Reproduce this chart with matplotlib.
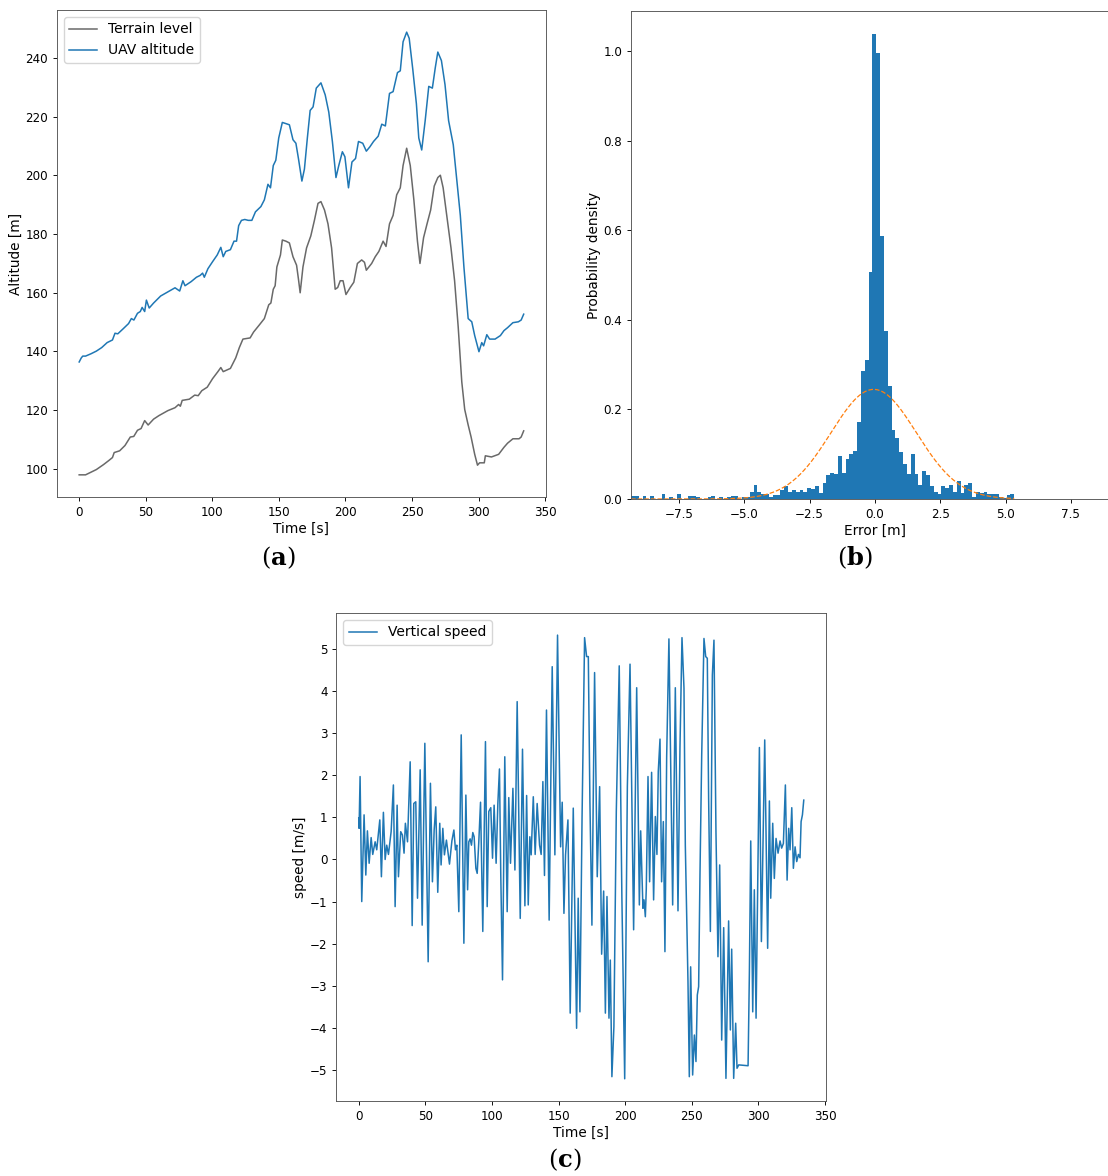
import numpy as np
import matplotlib
matplotlib.use("Agg")
import matplotlib.pyplot as plt
from matplotlib.ticker import MultipleLocator

plt.rcParams['mathtext.fontset'] = 'dejavuserif'

TICK_SIZE = 8.6
LABEL_SIZE = 9.8
LEGEND_SIZE = 10
LW = 1.1

# (a) terrain level and UAV altitude
terrain_t = [0, 4.8, 7.5, 12.9, 18.3, 22.3, 25, 26.3, 30.4, 34.4, 38.4, 41, 43.8, 46.5, 49.2,
             51.8, 55.9, 59.9, 66.6, 72, 74.7, 76, 77.4, 82.7, 86.8, 89.4, 92.1, 96.2, 100.2,
             104.2, 106.4, 108.2, 113.6, 117.6, 120.3, 123, 128.4, 131, 135.1, 139.1, 142.4,
             144, 145.8, 147.2, 148.5, 151.2, 152.6, 155.3, 157.9, 160.6, 163.3, 164.7, 166,
             168.1, 170.8, 174, 176.7, 179.4, 181.6, 184.3, 186.9, 189.6, 192.3, 194.2, 196.1,
             198.2, 200.4, 203.6, 206.3, 209, 212.2, 214.3, 215.7, 219.7, 222.4, 225.1, 228.3,
             230.5, 233.1, 235.8, 238.5, 241.2, 243.3, 246, 248.7, 251.4, 254.1, 256, 258.7,
             261.3, 264, 266.7, 269.4, 271.3, 273.4, 276.1, 279.3, 282, 284.7, 287.4, 289.6,
             292.2, 294.4, 297.1, 299.2, 300.8, 304.3, 305.1, 309.7, 315.1, 319.1, 321.8,
             325.8, 330.4, 332, 333.9]
terrain_alt = [97.9, 97.9, 98.5, 99.7, 101.4, 102.8, 103.8, 105.5, 106.1, 107.9, 110.8, 111,
               113.1, 113.7, 116.4, 114.9, 116.9, 118.1, 119.8, 120.8, 121.9, 121.3, 123.3,
               123.7, 125.1, 124.9, 126.6, 127.8, 130.7, 133.1, 134.5, 133.1, 134.2, 137.8,
               141.3, 144.2, 144.6, 146.6, 148.9, 151.2, 155.9, 156.5, 161.2, 162.4, 168.8,
               172.9, 178, 177.6, 177, 172.3, 169.4, 164.7, 160, 168.8, 175.3, 179.4, 184.7,
               190.5, 191.1, 188.2, 183.5, 175.3, 161.2, 161.8, 164.1, 164.1, 159.4, 161.8,
               163.6, 170, 171.2, 170.4, 167.7, 170, 172.3, 174.1, 177.6, 175.8, 183.5, 186.4,
               193.4, 195.8, 203.4, 209.3, 203.4, 191.7, 177.6, 170, 178.8, 183.5, 188.2,
               196.4, 199.3, 200.1, 195.8, 186.4, 175.3, 164.1, 148.4, 129.6, 120.2, 114.9,
               110.8, 104.9, 101.2, 102, 102, 104.4, 104, 104.9, 107.3, 108.7, 110.2, 110.2,
               110.8, 112.9]

uav_t = [0, 1.6, 2.7, 4.8, 8.9, 12.9, 16.9, 21, 25, 26.9, 29, 33, 37.1, 39.2, 41.1, 43.8, 45.9,
         47.3, 49.2, 50.5, 52.6, 55.9, 61.2, 66.6, 72, 75.5, 77.9, 79.5, 84.1, 88.1, 90.8, 92.7,
         94, 96.7, 100.2, 103.7, 106.4, 108.2, 110.1, 113.6, 116.3, 118.2, 119.8, 121.9, 124.4,
         127, 129.7, 132.4, 136.5, 139.1, 141.8, 143.7, 145.8, 147.7, 149.9, 152.6, 155.3,
         157.9, 160.6, 162.8, 164.7, 167.3, 169.2, 171.4, 173.5, 175.7, 178.1, 181.6, 184.8,
         187.5, 190.2, 192.9, 195, 197.7, 199.6, 202.3, 204.9, 207.6, 209.8, 213, 215.7, 218.4,
         221.1, 224.6, 227.3, 230, 233.1, 235.8, 239.1, 241.2, 243.3, 246, 247.9, 250.6, 253.3,
         255.1, 257.3, 259.9, 262.6, 265.3, 267.5, 269.4, 272.1, 274.8, 277.5, 281, 283.6,
         286.3, 289, 292.2, 294.9, 297.1, 300.3, 302.4, 303.8, 306.2, 308.3, 312.4, 316.4,
         319.1, 321.8, 325.8, 329.9, 332, 333.9]
uav_alt = [136.4, 137.8, 138.4, 138.4, 139.2, 140.1, 141.3, 143, 143.9, 146.2, 146, 147.7,
           149.5, 151.2, 150.7, 153, 153.6, 155, 153.6, 157.5, 154.8, 156.5, 158.9, 160.3,
           161.7, 160.6, 164.1, 162.4, 163.8, 165.3, 165.9, 166.7, 165.3, 168.2, 170.6, 172.9,
           175.5, 172.3, 174.1, 174.7, 177.6, 177.6, 182.9, 184.7, 185, 184.7, 184.7, 187.6,
           189.4, 191.7, 197, 195.8, 203.4, 205.2, 212.8, 218.1, 217.7, 217.3, 212.2, 211,
           205.8, 198.1, 202.2, 212.8, 222.2, 223.4, 229.8, 231.6, 227.5, 221.6, 211.6, 199.3,
           203.4, 208.1, 206.4, 195.8, 204.6, 205.8, 211.6, 211, 208.3, 209.8, 211.6, 213.4,
           217.5, 216.9, 228, 228.6, 235.1, 235.7, 245.6, 248.9, 246.8, 236.2, 224.5, 212.8,
           208.7, 218.7, 230.4, 229.8, 236.8, 242.1, 239.2, 231, 218.7, 210.5, 198.7, 186.4,
           168.8, 151.2, 150.1, 145.4, 139.9, 143, 141.9, 145.7, 144.2, 144.2, 145.4, 147.1,
           148.1, 149.8, 150.1, 150.7, 152.7]

# (b) error histogram (density per bin) and fitted normal
bin_lo, bin_hi, n_bins = -9.34, 5.33, 100
hist_density = [0.0075, 0.0075, 0, 0.0075, 0, 0.0075, 0, 0, 0.011, 0,
                0.004, 0, 0.011, 0, 0, 0.0075, 0.0075, 0.004, 0, 0,
                0.004, 0.0075, 0, 0.004, 0, 0.004, 0.0075, 0.0075, 0, 0.004,
                0.004, 0.015, 0.032, 0.015, 0.012, 0.012, 0.004, 0.008, 0.008, 0.021,
                0.028, 0.015, 0.021, 0.015, 0.019, 0.015, 0.025, 0.023, 0.028, 0.013,
                0.036, 0.054, 0.057, 0.055, 0.095, 0.058, 0.09, 0.1, 0.108, 0.173,
                0.286, 0.31, 0.508, 1.038, 0.996, 0.587, 0.375, 0.252, 0.155, 0.136,
                0.104, 0.078, 0.056, 0.1, 0.056, 0.032, 0.062, 0.054, 0.028, 0.015,
                0.012, 0.028, 0.025, 0.032, 0.015, 0.04, 0.013, 0.032, 0.036, 0.004,
                0.015, 0.013, 0.015, 0.012, 0.012, 0.012, 0.004, 0.002, 0.008, 0.012]
err_mu, err_sigma = -0.05, 1.63

# (c) vertical speed
speed_t = [0, 0.25, 1, 2.25, 4, 5.3, 6.5, 7.8, 9.3, 10.5, 12.3, 13.5, 14.5, 15.8, 17, 18.5,
           19.8, 21, 22.3, 24.3, 26, 27.3, 28.8, 29.8, 31.5, 32.8, 34, 35, 36.6, 38.6, 40.1,
           41.3, 42.8, 44.1, 46.1, 47.6, 49.6, 52.1, 53.8, 55.3, 56.6, 57.8, 59.3, 60.8, 61.8,
           63.1, 64.3, 65.8, 68.1, 69.9, 71.4, 72.6, 73.6, 75.1, 76.9, 78.9, 80.4, 81.7, 82.6,
           83.6, 84.6, 85.6, 86.6, 87.9, 88.9, 90.1, 91.4, 93.1, 95.1, 96.4, 97.6, 99.1, 100.4,
           101.6, 103.1, 104.4, 105.6, 106.6, 107.9, 109.6, 111.4, 112.6, 113.9, 115.7, 117.2,
           118.9, 121.2, 122.9, 124.7, 126, 127.2, 128.4, 129.4, 131, 132.4, 133.9, 135.7,
           136.9, 138.2, 139.4, 140.9, 142.9, 145.2, 147.2, 149.2, 151.5, 152.7, 154, 155.2,
           157, 158.7, 161, 163.5, 164.7, 166, 167.6, 169.5, 171, 172.3, 173.5, 175, 177, 179,
           180.8, 182.3, 183.8, 185.1, 186.3, 187.8, 188.8, 190, 191.5, 193.3, 195.5, 197.5,
           199.6, 201.6, 203.6, 206.3, 208.6, 210.6, 211.6, 213.3, 214.1, 215.1, 215.8, 217.1,
           218.3, 219.8, 221.3, 222.6, 223.8, 224.8, 226.1, 227.3, 228.6, 229.8, 231.1, 232.8,
           235.6, 237.6, 239.6, 241.1, 242.6, 244.1, 245.1, 247.1, 248.1, 249.1, 250.6, 251.9,
           253.1, 254.1, 255.1, 256.1, 257.4, 259.1, 260.4, 261.6, 262.6, 263.9, 265.4, 266.6,
           268.1, 269.6, 270.9, 272.4, 273.9, 275.6, 277.6, 278.9, 279.9, 281.4, 282.9, 283.9,
           285.2, 292.2, 293.2, 294.2, 295.7, 296.9, 298.2, 300.7, 302.2, 304.7, 306.9, 308.2,
           309.2, 310.7, 311.9, 313.2, 314.7, 316.2, 317.4, 318.7, 320.2, 321.5, 322.7, 323.7,
           325, 326.2, 327.5, 328.7, 330, 331.2, 332, 333, 334]
speed_v = [0.98, 0.74, 1.97, -1.0, 1.06, -0.37, 0.68, -0.09, 0.52, 0.12, 0.42, 0.23, 0.54,
           0.94, -0.41, 1.12, 0, 0.34, 0.12, 0.66, 1.77, -1.12, 1.29, -0.41, 0.66, 0.58, 0.15,
           0.86, 0.42, 2.32, -1.57, 1.33, 1.37, -0.92, 2.13, -1.56, 2.76, -2.43, 1.81, -0.53,
           0.7, 1.25, -0.78, 0.86, -0.13, 0.74, 0.11, 0.46, -0.11, 0.44, 0.7, 0.23, 0.34,
           -1.24, 2.96, -1.99, 1.53, -0.72, 0.42, 0.49, 0.34, 0.64, 0.54, -0.21, -0.33, 0.42,
           1.36, -1.71, 2.8, -1.12, 1.14, 1.23, 0.03, 1.29, -0.09, 1.33, 2.15, -0.37, -2.86,
           2.44, -1.24, 1.47, -0.09, 1.69, -0.25, 3.75, -1.4, 2.62, -1.1, 1.52, -1.08, 0.54,
           0.11, 1.49, 0.12, 1.33, 0.34, 0.12, 1.85, -0.38, 3.55, -1.44, 4.58, 0.11, 5.33,
           0.3, 1.36, -1.28, 0.11, 0.94, -3.65, 1.22, -4.01, -0.92, -3.62, 1.0, 5.27, 4.82,
           4.82, 1.37, -1.56, 4.44, -0.41, 1.73, -2.25, -0.75, -3.65, -0.88, -3.77, -2.39,
           -5.16, -3.97, 1.14, 4.6, -0.92, -5.21, 1.73, 4.64, -1.67, 4.08, -1.08, 0.68, -1.16,
           -0.96, -1.36, -0.7, 1.97, -0.53, 2.07, -0.96, 1.02, 0.12, 2.09, 2.86, -0.53, 0.9,
           -2.19, 2.44, 5.24, -1.08, 4.08, -1.22, 2.68, 5.27, 4.07, 0.34, -2.9, -5.16, -2.55,
           -5.12, -4.17, -4.8, -3.22, -3.02, -0.37, 2.48, 5.25, 4.82, 4.78, 1.45, -1.71, 4.38,
           5.21, 0.66, -2.31, -0.13, -4.29, -1.62, -5.2, -1.46, -4.05, -2.13, -5.2, -3.89,
           -4.96, -4.88, -4.9, -2.66, 0.44, -3.62, -0.72, -3.77, 2.66, -1.95, 2.84, -2.11,
           1.39, -0.92, 0.86, -0.45, 0.5, 0.15, 0.44, 0.27, 0.38, 1.77, -0.49, 0.74, 0.23,
           1.23, -0.21, 0.3, -0.05, 0.12, 0.04, 0.9, 1.06, 1.41]


def style_axes(ax):
    ax.tick_params(axis='both', labelsize=TICK_SIZE, length=2.8, width=0.65)
    for s in ax.spines.values():
        s.set_linewidth(0.65)
        s.set_color('#555555')


def caption(fig, x, y, letter):
    fig.text(x, y, r'($\mathbf{%s}$)' % letter, fontsize=17.5, family='DejaVu Serif',
             ha='center', va='center')


fig = plt.figure(figsize=(11.08, 11.76), dpi=100)

# (a)
ax_a = fig.add_axes([0.0514, 0.5774, 0.4413, 0.4141])
ax_a.plot(terrain_t, terrain_alt, color='dimgray', lw=LW, label='Terrain level')
ax_a.plot(uav_t, uav_alt, color='tab:blue', lw=LW, label='UAV altitude')
ax_a.set_xlabel('Time [s]', fontsize=LABEL_SIZE, labelpad=2)
ax_a.set_ylabel('Altitude [m]', fontsize=LABEL_SIZE, labelpad=2)
ax_a.set_xticks(np.arange(0, 351, 50))
ax_a.legend(loc='upper left', fontsize=LEGEND_SIZE)
style_axes(ax_a)

# (b)
edges = np.linspace(bin_lo, bin_hi, n_bins + 1)
ax_b = fig.add_axes([0.5695, 0.5757, 0.4404, 0.415])
ax_b.bar(edges[:-1], hist_density, width=np.diff(edges), align='edge', color='tab:blue', linewidth=0)
xs = np.linspace(bin_lo, bin_hi, 300)
pdf = np.exp(-0.5 * ((xs - err_mu) / err_sigma) ** 2) / (err_sigma * np.sqrt(2 * np.pi))
ax_b.plot(xs, pdf, '--', color='tab:orange', lw=0.9)
ax_b.set_xlim(-9.34, 9.34)
ax_b.set_xticks([-7.5, -5.0, -2.5, 0.0, 2.5, 5.0, 7.5])
ax_b.set_xlabel('Error [m]', fontsize=LABEL_SIZE, labelpad=2)
ax_b.set_ylabel('Probability density', fontsize=LABEL_SIZE, labelpad=2)
style_axes(ax_b)

# (c)
ax_c = fig.add_axes([0.3037, 0.0638, 0.4418, 0.415])
ax_c.plot(speed_t, speed_v, color='tab:blue', lw=LW, label='Vertical speed')
ax_c.set_xticks(np.arange(0, 351, 50))
ax_c.yaxis.set_major_locator(MultipleLocator(1))
ax_c.set_xlabel('Time [s]', fontsize=LABEL_SIZE, labelpad=2)
ax_c.set_ylabel('speed [m/s]', fontsize=LABEL_SIZE, labelpad=2)
ax_c.legend(loc='upper left', fontsize=LEGEND_SIZE)
style_axes(ax_c)

caption(fig, 0.2509, 0.5255, 'a')
caption(fig, 0.7717, 0.5255, 'b')
caption(fig, 0.5099, 0.0136, 'c')

fig.savefig('out.png', dpi=100)
